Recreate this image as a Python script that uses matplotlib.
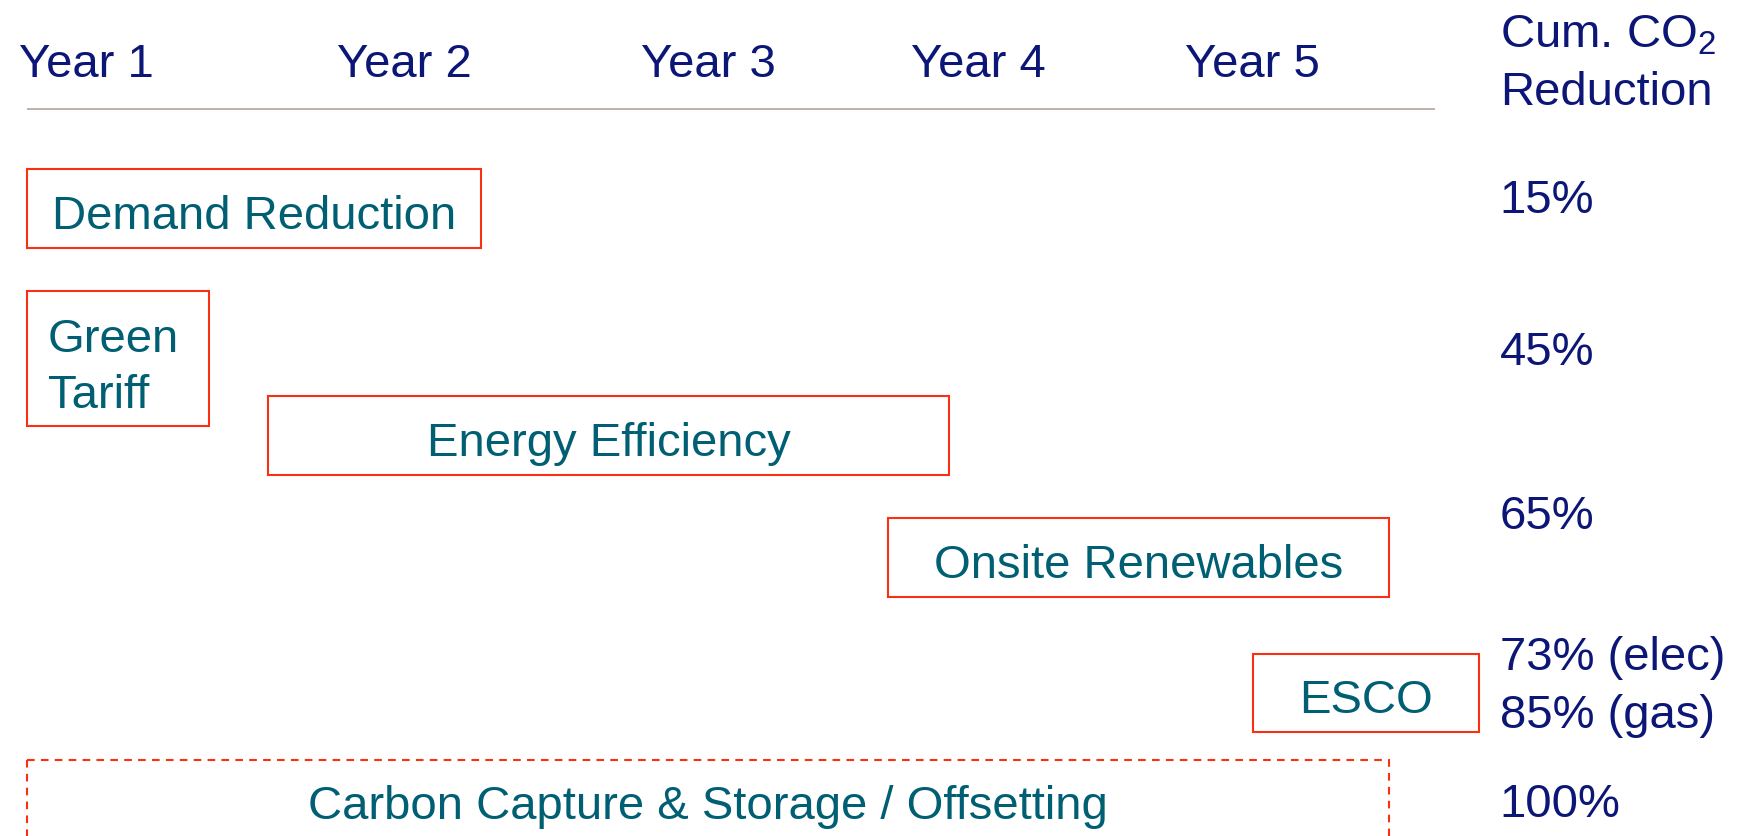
import matplotlib.pyplot as plt
from matplotlib.patches import Rectangle

plt.rcParams['font.family'] = ['Liberation Sans', 'DejaVu Sans']
plt.rcParams['mathtext.fontset'] = 'custom'
plt.rcParams['mathtext.rm'] = 'Liberation Sans'
plt.rcParams['lines.scale_dashes'] = False

# timeline in years (0 = start of the header rule, 5 = its end)
years = ['Year 1', 'Year 2', 'Year 3', 'Year 4', 'Year 5']
year_pos = [0.21, 1.34, 2.42, 3.38, 4.35]

measures = ['Demand Reduction', 'Green\nTariff', 'Energy Efficiency',
            'Onsite Renewables', 'ESCO', 'Carbon Capture & Storage / Offsetting']
start = [0.0, 0.0, 0.856, 3.058, 4.354, 0.0]
end = [1.612, 0.646, 3.274, 4.837, 5.156, 4.837]
planned = [False, False, False, False, False, True]   # dashed box

reduction_title = 'Cum. CO$_\\mathregular{2}$\nReduction'
reduction = ['15%', '45%', '65%', '73% (elec)\n85% (gas)', '100%']

# layout (vertical positions in pixels from the top)
box_top = [170, 292, 397, 519, 655, 761]
box_h = [79, 135, 79, 79, 78, 79]
red_base = [213, 365, 529, 670, 817]

NAVY = '#0c1677'
TEAL = '#005f73'
RED = '#fb3012'
RULE = '#b5ada5'
FS = 34
PX = 281.6  # pixels per year


def multiline(ax, x, y, label, step, **kw):
    for i, line in enumerate(label.split('\n')):
        ax.text(x, y + i * step, line, va='baseline', fontsize=FS, **kw)


fig = plt.figure(figsize=(17.45, 8.37), dpi=100)
ax = fig.add_axes([0, 0, 1, 1])
ax.set_xlim(-27 / PX, (1745 - 27) / PX)
ax.set_ylim(837, 0)
ax.axis('off')

# header
for name, x in zip(years, year_pos):
    ax.text(x, 77, name, ha='center', va='baseline', fontsize=FS, color=NAVY)
ax.plot([0, 5], [110, 110], color=RULE, lw=1.3, solid_capstyle='butt')

# measures
for i, name in enumerate(measures):
    ls = (0, (5.5, 4.5)) if planned[i] else '-'
    ax.add_patch(Rectangle((start[i], box_top[i]), end[i] - start[i], box_h[i],
                           fill=False, edgecolor=RED, lw=1.5, linestyle=ls))
    if '\n' in name:
        multiline(ax, start[i] + 21 / PX, box_top[i] + 60, name, 56,
                  ha='left', color=TEAL)
    else:
        ax.text((start[i] + end[i]) / 2, box_top[i] + box_h[i] / 2 + 19, name,
                ha='center', va='baseline', fontsize=FS, color=TEAL)

# cumulative reduction column
col_x = 5.23
multiline(ax, col_x, 47, reduction_title, 58, ha='left', color=NAVY)
for lab, y in zip(reduction, red_base):
    multiline(ax, col_x, y, lab, 58, ha='left', color=NAVY)

fig.savefig('out.png', dpi=100)
plt.close(fig)
